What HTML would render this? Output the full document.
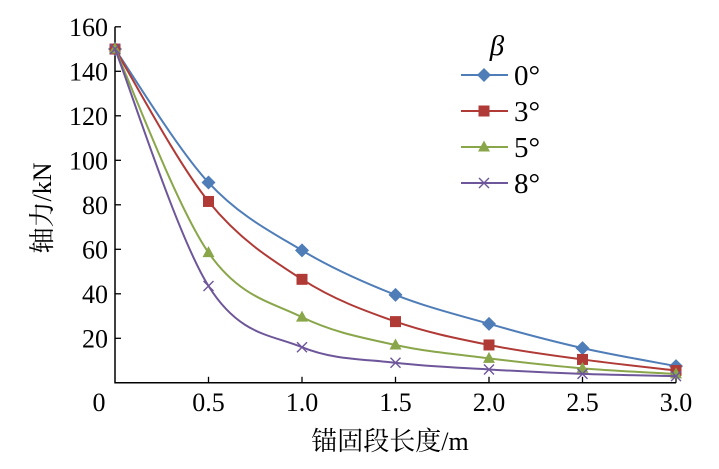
<!DOCTYPE html>
<html><head><meta charset="utf-8"><style>
html,body{margin:0;padding:0;background:#fff;}
svg{display:block;font-family:"Liberation Serif","Noto Serif CJK SC",serif;}
</style></head><body>
<svg id="c" width="719" height="469" viewBox="0 0 719 469"></svg>
<script>
const xValues=[0,0.5,1.0,1.5,2.0,2.5,3.0];
const series0=[150,90,59.5,39.5,26.5,15.6,7.5];
const series3=[150,81.5,46.5,27.5,17,10.5,5.5];
const series5=[150,58.5,29.5,17,11,6.5,4];
const series8=[150,43.5,16,9,6,4,3];
const seriesNames=["0°","3°","5°","8°"];
const xTicks=[0.5,1.0,1.5,2.0,2.5,3.0];
const xTickLabels=["0.5","1.0","1.5","2.0","2.5","3.0"];
const yTicks=[20,40,60,80,100,120,140,160];
const yTickLabels=["20","40","60","80","100","120","140","160"];

const X=v=>115+v*187;
const Y=v=>382.8-v*2.225;
const NS="http://www.w3.org/2000/svg";
const svg=document.getElementById('c');
function mk(t,a,p){const e=document.createElementNS(NS,t);for(const k in a)e.setAttribute(k,a[k]);(p||svg).appendChild(e);return e;}

let ax=mk('path',{d:`M115 26.7 V382.8 H676`,fill:'none',stroke:'#000','stroke-width':1.5});


yTicks.forEach((v,i)=>{
  const t=mk('line',{x1:115,x2:121,y1:Y(v),y2:Y(v),stroke:'#000','stroke-width':1.3});
  
  
  const l=mk('text',{x:108,y:Y(v)+9,'text-anchor':'end','font-size':26});
  l.textContent=yTickLabels[i];
  
  
});
xTicks.forEach((v,i)=>{
  const t=mk('line',{x1:X(v),x2:X(v),y1:382.8,y2:376.8,stroke:'#000','stroke-width':1.3});
  
  
  const l=mk('text',{x:X(v),y:411,'text-anchor':'middle','font-size':26});
  l.textContent=xTickLabels[i];
  
  
});
let z=mk('text',{x:99,y:411,'text-anchor':'middle','font-size':26});z.textContent='0';



let xt=mk('text',{x:390,y:450,'text-anchor':'middle','font-size':26});xt.textContent='锚固段长度/m';


let yt=mk('text',{x:0,y:0,'text-anchor':'middle','font-size':26,transform:'translate(51,208) rotate(-90)'});yt.textContent='轴力/kN';



const colors=['#4f7db8','#b03a36','#8aa64a','#6e569a'];
const allSeries=[series0,series3,series5,series8];

function smooth(pts){
  let d=`M${pts[0][0]} ${pts[0][1]}`;
  for(let i=0;i<pts.length-1;i++){
    const p0=pts[i-1]||pts[i],p1=pts[i],p2=pts[i+1],p3=pts[i+2]||p2;
    const c1=[p1[0]+(p2[0]-p0[0])/6,p1[1]+(p2[1]-p0[1])/6];
    const c2=[p2[0]-(p3[0]-p1[0])/6,p2[1]-(p3[1]-p1[1])/6];
    d+=` C${c1[0]} ${c1[1]} ${c2[0]} ${c2[1]} ${p2[0]} ${p2[1]}`;
  }
  return d;
}
function marker(k,x,y,c,g){
  let e;
  if(k===0)e=mk('path',{d:`M${x} ${y-7} L${x+7} ${y} L${x} ${y+7} L${x-7} ${y}Z`,fill:c},g);
  else if(k===1)e=mk('rect',{x:x-5.5,y:y-5.5,width:11,height:11,fill:c},g);
  else if(k===2)e=mk('path',{d:`M${x} ${y-6.5} L${x+6} ${y+4.5} L${x-6} ${y+4.5}Z`,fill:c},g);
  else e=mk('path',{d:`M${x-5} ${y-5} L${x+5} ${y+5} M${x+5} ${y-5} L${x-5} ${y+5}`,stroke:c,'stroke-width':1.4,fill:'none'},g);
  return e;
}
allSeries.forEach((s,k)=>{
  const g=mk('g',{});
  
  
  const pts=s.map((v,i)=>[X(xValues[i]),Y(v)]);
  const p=mk('path',{d:smooth(pts),fill:'none',stroke:colors[k],'stroke-width':2},g);
  
  
  pts.forEach(q=>{
    const m=marker(k,q[0],q[1],colors[k],g);
    
    
  });
  const ly=75+k*36;
  const lg=mk('g',{});
  
  
  mk('line',{x1:461,x2:508,y1:ly,y2:ly,stroke:colors[k],'stroke-width':2},lg);
  marker(k,484,ly,colors[k],lg);
  const t=mk('text',{x:514,y:ly+10,'font-size':29},lg);t.textContent=seriesNames[k];
});
let b=mk('text',{x:497,y:55,'text-anchor':'middle','font-size':29,'font-style':'italic'});b.textContent='β';


</script>
</body></html>
